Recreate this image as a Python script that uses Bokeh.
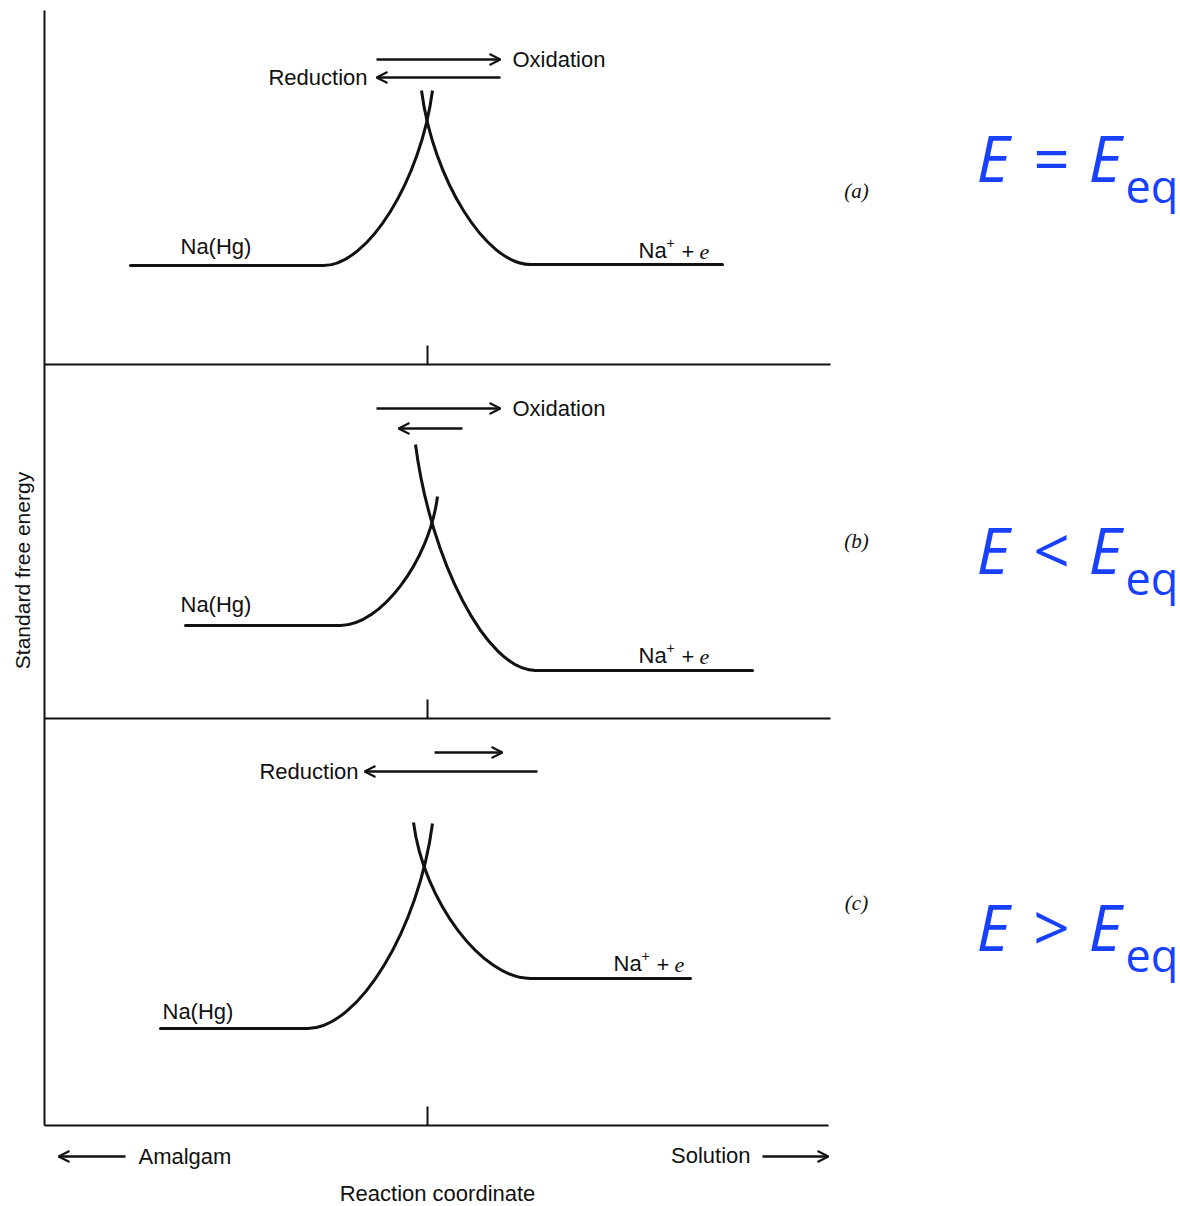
import numpy as np
from bokeh.plotting import figure
from bokeh.models import Range1d, Arrow, OpenHead, ColumnDataSource
from bokeh.core.properties import value
from bokeh.embed import file_html
from bokeh.resources import INLINE

# ---------------- data (diagram coordinates, page pixels) ----------------
panel_tags = ["(a)", "(b)", "(c)"]
condition_ops = ["=", "<", ">"]
baseline_y = [364, 718, 1125]
tick_x = [427, 427, 427]

left_plateau_x0 = [130, 185, 160]
left_bend_x = [323, 340, 307]
left_bend_y = [265, 625, 1028]
left_top_x = [432, 437, 432]
left_top_y = [90, 496, 823]

right_top_x = [421, 415, 413]
right_top_y = [90, 444, 822]
right_bend_x = [530, 535, 530]
right_bend_y = [264, 670, 978]
right_plateau_x1 = [722, 752, 690]

ox_arrow_x0 = [376, 376, 434]
ox_arrow_x1 = [500, 500, 502]
ox_arrow_y = [59, 408, 752]
red_arrow_x0 = [500, 462, 537]
red_arrow_x1 = [376, 398, 364]
red_arrow_y = [77, 428, 771]

ox_label = ["Oxidation", "Oxidation", ""]
red_label = ["Reduction", "", "Reduction"]

left_label_x = [180, 180, 162]
left_label_y = [246, 604, 1011]
right_label_x = [638, 638, 613]
right_label_y = [250, 655, 963]
tag_y = [190, 540, 902]
cond_y = [157, 549, 926]

y_axis_title = "Standard free energy"
x_axis_title = "Reaction coordinate"
x_left_label = "Amalgam"
x_right_label = "Solution"

INK = "#111111"
BLUE = "#1740ff"
SANS = value("Liberation Sans")

p = figure(width=1180, height=1206, output_backend="svg", toolbar_location=None,
           tools="", x_axis_type=None, y_axis_type=None, min_border=0,
           x_range=Range1d(0, 1180), y_range=Range1d(1206, 0))
p.grid.visible = False
p.outline_line_color = None
p.background_fill_color = "white"

# frame: vertical axis and three baselines with ticks
p.segment(x0=[44], y0=[10], x1=[44], y1=[1125], line_color=INK, line_width=2)
p.segment(x0=[44] * 3, y0=baseline_y, x1=[830, 830, 828], y1=baseline_y,
          line_color=INK, line_width=2)
p.segment(x0=tick_x, y0=[b - 19 for b in baseline_y], x1=tick_x, y1=baseline_y,
          line_color=INK, line_width=2)


def ctrl(xb, yb, xt, yt):
    s = 1 if xt > xb else -1
    dx = abs(xt - xb)
    dy = yb - yt
    b = 0.51 * dy
    return xb + s * 0.41 * dx, yb, xt - s * 0.13 * b, yt + b


for i in range(3):
    # left well (amalgam)
    p.segment(x0=[left_plateau_x0[i]], y0=[left_bend_y[i]], x1=[left_bend_x[i]],
              y1=[left_bend_y[i]], line_color=INK, line_width=3, line_cap="round")
    c = ctrl(left_bend_x[i], left_bend_y[i], left_top_x[i], left_top_y[i])
    p.bezier(x0=[left_bend_x[i]], y0=[left_bend_y[i]], x1=[left_top_x[i]], y1=[left_top_y[i]],
             cx0=[c[0]], cy0=[c[1]], cx1=[c[2]], cy1=[c[3]], line_color=INK, line_width=3)
    # right well (solution)
    p.segment(x0=[right_bend_x[i]], y0=[right_bend_y[i]], x1=[right_plateau_x1[i]],
              y1=[right_bend_y[i]], line_color=INK, line_width=3, line_cap="round")
    c = ctrl(right_bend_x[i], right_bend_y[i], right_top_x[i], right_top_y[i])
    p.bezier(x0=[right_bend_x[i]], y0=[right_bend_y[i]], x1=[right_top_x[i]], y1=[right_top_y[i]],
             cx0=[c[0]], cy0=[c[1]], cx1=[c[2]], cy1=[c[3]], line_color=INK, line_width=3)

# rate arrows
arrows = ColumnDataSource(dict(
    x0=ox_arrow_x0 + red_arrow_x0 + [125, 762],
    x1=ox_arrow_x1 + red_arrow_x1 + [58, 828],
    y=ox_arrow_y + red_arrow_y + [1156, 1156]))
p.add_layout(Arrow(source=arrows, x_start="x0", y_start="y", x_end="x1", y_end="y",
                   line_color=INK, line_width=2.5,
                   end=OpenHead(size=11, line_color=INK, line_width=2)))

txt = dict(text_font=SANS, text_font_size="22px", text_color=INK,
           text_baseline="middle")
p.text(x=[512, 512], y=ox_arrow_y[:2], text=ox_label[:2], text_align="left", **txt)
p.text(x=[367, 358], y=[red_arrow_y[0], red_arrow_y[2]], text=[red_label[0], red_label[2]],
       text_align="right", **txt)

p.text(x=left_label_x, y=left_label_y, text=["Na(Hg)"] * 3, text_align="left", **txt)
p.text(x=right_label_x, y=right_label_y, text=["Na"] * 3, text_align="left", **txt)
p.text(x=[x + 28 for x in right_label_x], y=[y - 8 for y in right_label_y], text=["+"] * 3,
       text_align="left", text_font=SANS, text_font_size="14px", text_color=INK,
       text_baseline="middle")
p.text(x=[x + 43 for x in right_label_x], y=[y + 1 for y in right_label_y], text=["+"] * 3,
       text_align="left", **txt)
p.text(x=[x + 61 for x in right_label_x], y=[y + 1 for y in right_label_y], text=["e"] * 3,
       text_align="left", text_font=value("Liberation Serif"), text_font_style="italic",
       text_font_size="22px", text_color=INK, text_baseline="middle")

# panel tags
p.text(x=[856] * 3, y=tag_y, text=panel_tags, text_align="center",
       text_font=value("Liberation Serif"), text_font_style="italic",
       text_font_size="21px", text_color=INK, text_baseline="middle")

# axis titles
p.text(x=[22], y=[570], text=[y_axis_title], angle=[np.pi / 2], text_align="center",
       text_baseline="middle", text_font=SANS, text_font_size="21px", text_color=INK)
p.text(x=[138], y=[1156], text=[x_left_label], text_align="left", **txt)
p.text(x=[750], y=[1155], text=[x_right_label], text_align="right", **txt)
p.text(x=[437], y=[1193], text=[x_axis_title], text_align="center", **txt)

# condition labels
OS = value("Open Sans")
p.text(x=[976] * 3, y=cond_y, text=["E"] * 3, text_font=OS, text_font_style="italic",
       text_font_size="64px", text_color=BLUE, text_baseline="middle", text_align="left")
p.text(x=[1051] * 3, y=cond_y, text=condition_ops, text_font=OS,
       text_font_size="64px", text_color=BLUE, text_baseline="middle", text_align="center")
p.text(x=[1088] * 3, y=cond_y, text=["E"] * 3, text_font=OS, text_font_style="italic",
       text_font_size="64px", text_color=BLUE, text_baseline="middle", text_align="left")
p.text(x=[1125] * 3, y=[y + 28 for y in cond_y], text=["eq"] * 3, text_font=OS,
       text_font_size="45px", text_color=BLUE, text_baseline="middle", text_align="left")

open("out.html", "w").write(file_html(p, INLINE))
